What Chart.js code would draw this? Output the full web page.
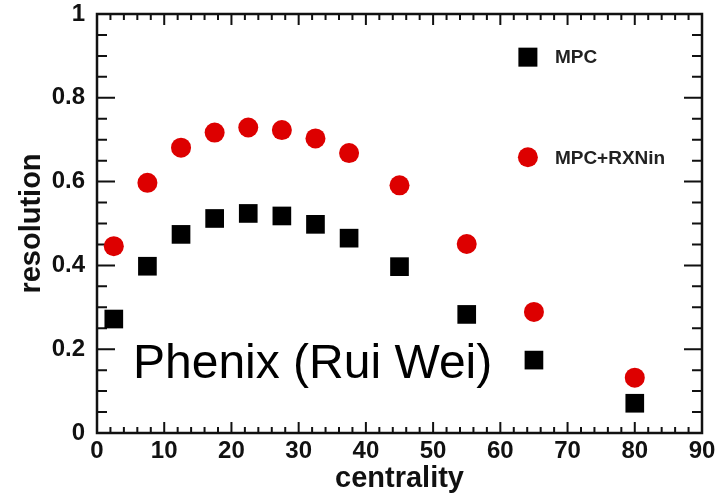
<!DOCTYPE html>
<html>
<head>
<meta charset="utf-8">
<script src="https://cdn.jsdelivr.net/npm/chart.js@4.4.0/dist/chart.umd.min.js"></script>
<style>
    html, body { margin: 0; padding: 0; background: #fff; }
    #wrap { width: 721px; height: 497px; position: relative; }
</style>
</head>
<body>
<div id="wrap"><canvas id="resChart" width="721" height="497"></canvas></div>
<script>
const centrality = [2.5, 7.5, 12.5, 17.5, 22.5, 27.5, 32.5, 37.5, 45, 55, 65, 80];
const mpcValues = [0.272, 0.398, 0.474, 0.512, 0.524, 0.518, 0.498, 0.465, 0.397, 0.283, 0.174, 0.071];
const mpcRxnValues = [0.446, 0.597, 0.681, 0.717, 0.729, 0.723, 0.703, 0.668, 0.591, 0.451, 0.289, 0.132];
const legendLabels = ['MPC', 'MPC+RXNin'];
const xTicks = [0, 10, 20, 30, 40, 50, 60, 70, 80, 90];
const yTicks = [0, 0.2, 0.4, 0.6, 0.8, 1];

const labelFont = { family: '"Liberation Sans", Arial, sans-serif', size: 24, weight: 'bold' };
const titleFont = { family: '"Liberation Sans", Arial, sans-serif', size: 29, weight: 'bold' };

function toPoints(values) {
    return centrality.map((c, i) => ({ x: c, y: values[i] }));
}

// ROOT style frame with inward ticks on all four sides
const frameTicks = {
    id: 'frameTicks',
    beforeDatasetsDraw(chart) {
        const { ctx, chartArea: a, scales: { x, y } } = chart;
        ctx.save();
        ctx.strokeStyle = '#111';
        ctx.lineWidth = 2;
        ctx.beginPath();
        for (let v = 0; v <= 90; v += 2) {
            const px = x.getPixelForValue(v);
            const len = v % 10 === 0 ? 11 : 6;
            ctx.moveTo(px, a.bottom); ctx.lineTo(px, a.bottom - len);
            ctx.moveTo(px, a.top); ctx.lineTo(px, a.top + len);
        }
        for (let k = 0; k <= 20; k++) {
            const py = y.getPixelForValue(k * 0.05);
            const len = k % 4 === 0 ? 18 : 10;
            ctx.moveTo(a.left, py); ctx.lineTo(a.left + len, py);
            ctx.moveTo(a.right, py); ctx.lineTo(a.right - len, py);
        }
        ctx.stroke();
        ctx.lineWidth = 2.5;
        ctx.strokeRect(a.left, a.top, a.right - a.left, a.bottom - a.top);
        ctx.restore();
    },
    afterDatasetsDraw(chart) {
        const { ctx, scales: { x, y } } = chart;
        ctx.save();
        // legend, placed in data coordinates
        const lx = x.getPixelForValue(64.1);
        const rows = [
            { y: 0.897, label: legendLabels[0], square: true, color: '#000' },
            { y: 0.658, label: legendLabels[1], square: false, color: '#dd0000' }
        ];
        rows.forEach(r => {
            const py = y.getPixelForValue(r.y);
            ctx.fillStyle = r.color;
            if (r.square) {
                ctx.fillRect(lx - 9.5, py - 9.5, 19, 19);
            } else {
                ctx.beginPath();
                ctx.arc(lx, py, 10, 0, Math.PI * 2);
                ctx.fill();
            }
            ctx.fillStyle = '#222';
            ctx.font = 'bold 19px "Liberation Sans", Arial, sans-serif';
            ctx.textAlign = 'left';
            ctx.textBaseline = 'middle';
            ctx.fillText(r.label, lx + 27, py + 1);
        });
        // annotation
        ctx.fillStyle = '#000';
        ctx.font = '48px "Liberation Sans", Arial, sans-serif';
        ctx.textBaseline = 'alphabetic';
        ctx.fillText('Phenix (Rui Wei)', 133, 378);
        ctx.restore();
    }
};

const ctx = document.getElementById('resChart').getContext('2d');
const resChart = new Chart(ctx, {
    type: 'scatter',
    data: {
        datasets: [
            {
                label: legendLabels[0],
                data: toPoints(mpcValues),
                pointStyle: 'rect',
                pointRadius: 13.2,
                pointBorderWidth: 0,
                backgroundColor: '#000',
                borderColor: '#000',
                clip: false
            },
            {
                label: legendLabels[1],
                data: toPoints(mpcRxnValues),
                pointStyle: 'circle',
                pointRadius: 10,
                pointBorderWidth: 0,
                backgroundColor: '#dd0000',
                borderColor: '#dd0000',
                clip: false
            }
        ]
    },
    options: {
        responsive: false,
        animation: false,
        layout: { padding: { top: 14, right: 19, left: 0, bottom: 0 } },
        plugins: { legend: { display: false }, tooltip: { enabled: false } },
        scales: {
            x: {
                type: 'linear',
                min: 0,
                max: 90,
                afterFit: s => { s.height = 64; s.paddingLeft = 0; s.paddingRight = 0; },
                afterBuildTicks: s => { s.ticks = xTicks.map(v => ({ value: v })); },
                grid: { display: false, drawTicks: false },
                border: { display: false },
                ticks: { color: '#111', font: labelFont, padding: 4, maxRotation: 0 },
                title: { display: true, text: 'centrality', color: '#111', font: titleFont, padding: { bottom: 1 } }
            },
            y: {
                type: 'linear',
                min: 0,
                max: 1,
                afterFit: s => { s.width = 97; s.paddingTop = 0; s.paddingBottom = 0; },
                afterBuildTicks: s => { s.ticks = yTicks.map(v => ({ value: v })); },
                grid: { display: false, drawTicks: false },
                border: { display: false },
                ticks: {
                    color: '#111',
                    font: labelFont,
                    padding: 12,
                    callback: v => String(Math.round(v * 10) / 10)
                },
                title: { display: true, text: 'resolution', color: '#111', font: titleFont, padding: { top: 15 } }
            }
        }
    },
    plugins: [frameTicks]
});
</script>
</body>
</html>
